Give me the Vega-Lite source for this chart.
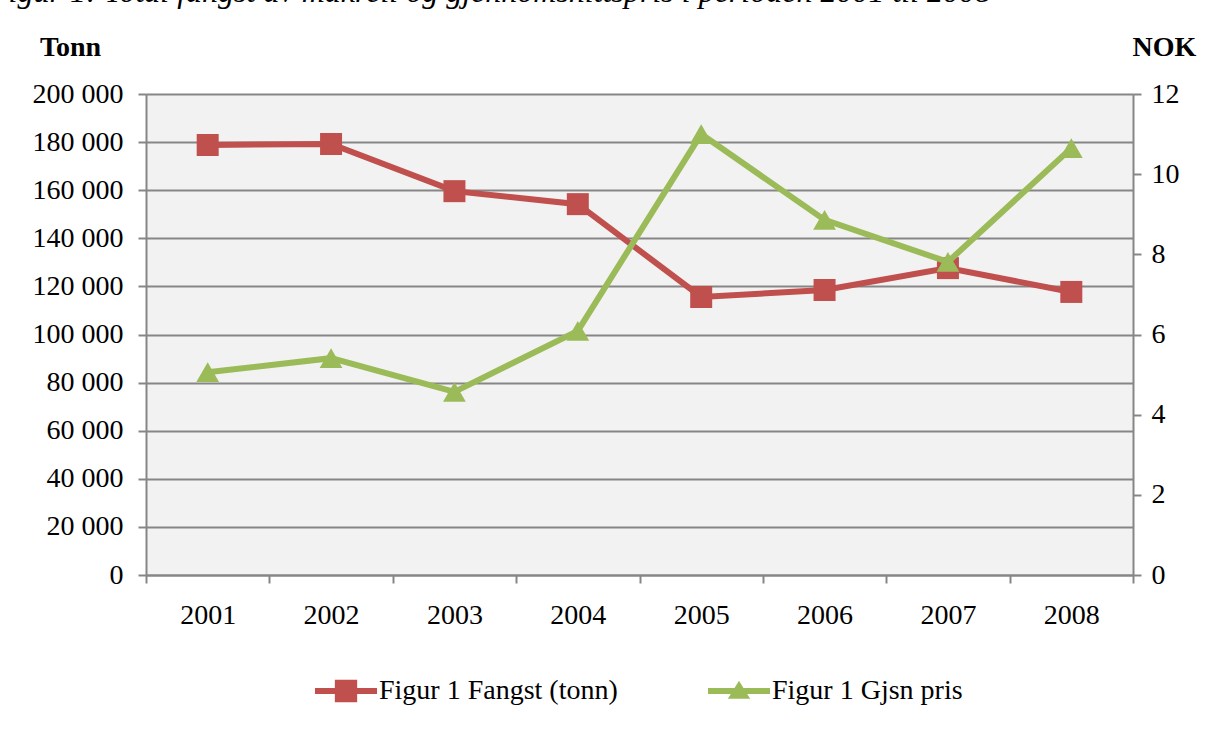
{
  "$schema": "https://vega.github.io/schema/vega-lite/v6.json",
  "width": 987,
  "height": 481,
  "autosize": {"type": "none"},
  "padding": {"left": 146, "top": 94, "right": 75, "bottom": 176},
  "background": "white",
  "title": {
    "text": "Figur 1: Total fangst av makrell og gjennomsnittspris i perioden 2001 til 2008",
    "anchor": "start",
    "frame": "group",
    "font": "Liberation Serif",
    "fontStyle": "italic",
    "fontWeight": "normal",
    "fontSize": 32,
    "color": "black",
    "baseline": "alphabetic",
    "offset": 0,
    "dx": -157,
    "dy": 1
  },
  "config": {
    "locale": {"number": {"decimal": ",", "thousands": " ", "grouping": [3], "currency": ["", " kr"]}},
    "view": {"fill": "#f2f2f2", "stroke": null},
    "axis": {
      "labelFont": "Liberation Serif",
      "labelFontSize": 28,
      "labelColor": "black",
      "titleFont": "Liberation Serif",
      "titleFontSize": 28,
      "titleColor": "black",
      "titleFontWeight": "bold",
      "domainColor": "#868686",
      "domainWidth": 2,
      "tickColor": "#868686",
      "tickWidth": 2,
      "tickSize": 8,
      "gridColor": "#868686",
      "gridWidth": 2
    }
  },
  "data": {
    "values": [
      {"year": "2001", "serie": "Figur 1 Fangst (tonn)", "verdi": 178800},
      {"year": "2002", "serie": "Figur 1 Fangst (tonn)", "verdi": 179200},
      {"year": "2003", "serie": "Figur 1 Fangst (tonn)", "verdi": 159600},
      {"year": "2004", "serie": "Figur 1 Fangst (tonn)", "verdi": 154200},
      {"year": "2005", "serie": "Figur 1 Fangst (tonn)", "verdi": 115600},
      {"year": "2006", "serie": "Figur 1 Fangst (tonn)", "verdi": 118500},
      {"year": "2007", "serie": "Figur 1 Fangst (tonn)", "verdi": 127600},
      {"year": "2008", "serie": "Figur 1 Fangst (tonn)", "verdi": 117700},
      {"year": "2001", "serie": "Figur 1 Gjsn pris", "verdi": 5.06},
      {"year": "2002", "serie": "Figur 1 Gjsn pris", "verdi": 5.41},
      {"year": "2003", "serie": "Figur 1 Gjsn pris", "verdi": 4.57},
      {"year": "2004", "serie": "Figur 1 Gjsn pris", "verdi": 6.09},
      {"year": "2005", "serie": "Figur 1 Gjsn pris", "verdi": 11.0},
      {"year": "2006", "serie": "Figur 1 Gjsn pris", "verdi": 8.86},
      {"year": "2007", "serie": "Figur 1 Gjsn pris", "verdi": 7.81},
      {"year": "2008", "serie": "Figur 1 Gjsn pris", "verdi": 10.65}
    ]
  },
  "encoding": {
    "x": {
      "field": "year",
      "type": "ordinal",
      "scale": {"type": "band", "paddingInner": 0, "paddingOuter": 0},
      "axis": {"title": null, "labelAngle": 0, "tickBand": "extent", "labelPadding": 18, "grid": false}
    },
    "color": {
      "field": "serie",
      "type": "nominal",
      "scale": {"domain": ["Figur 1 Fangst (tonn)", "Figur 1 Gjsn pris"], "range": ["#c0504d", "#9bbb59"]},
      "legend": {
        "title": null,
        "orient": "none",
        "direction": "horizontal",
        "legendX": 169,
        "legendY": 566,
        "labelFont": "Liberation Serif",
        "labelFontSize": 28,
        "labelColor": "black",
        "labelLimit": 500,
        "labelOffset": 2,
        "columnPadding": 90,
        "symbolSize": 3844,
        "symbolStrokeWidth": 0,
        "symbolOpacity": 1,
        "encode": {
          "symbols": {
            "update": {
              "shape": {"signal": "datum.value === 'Figur 1 Fangst (tonn)' ? 'M-1,-0.1H1V0.1H-1Z M-0.36,-0.36H0.36V0.36H-0.36Z' : 'M-1,-0.1H1V0.1H-1Z M0,-0.33L0.36,0.25H-0.36Z'"},
              "fill": {"signal": "datum.value === 'Figur 1 Fangst (tonn)' ? '#c0504d' : '#9bbb59'"},
              "strokeWidth": {"value": 0}
            }
          }
        }
      }
    }
  },
  "layer": [
    {
      "transform": [{"filter": "datum.serie === 'Figur 1 Fangst (tonn)'"}],
      "encoding": {
        "y": {
          "field": "verdi",
          "type": "quantitative",
          "scale": {"domain": [0, 200000], "nice": false},
          "axis": {
            "orient": "left",
            "values": [0, 20000, 40000, 60000, 80000, 100000, 120000, 140000, 160000, 180000, 200000],
            "format": ",.0f",
            "grid": true,
            "labelPadding": 15,
            "title": "Tonn",
            "titleAngle": 0,
            "titleAlign": "center",
            "titleBaseline": "alphabetic",
            "titleX": -76,
            "titleY": -39
          }
        }
      },
      "layer": [
        {"mark": {"type": "line", "strokeWidth": 6}},
        {"mark": {"type": "point", "shape": "square", "filled": true, "size": 484, "opacity": 1}}
      ]
    },
    {
      "transform": [{"filter": "datum.serie === 'Figur 1 Gjsn pris'"}],
      "encoding": {
        "y": {
          "field": "verdi",
          "type": "quantitative",
          "scale": {"domain": [0, 12], "nice": false},
          "axis": {
            "orient": "right",
            "values": [0, 2, 4, 6, 8, 10, 12],
            "grid": false,
            "labelPadding": 10,
            "title": "NOK",
            "titleAngle": 0,
            "titleAlign": "center",
            "titleBaseline": "alphabetic",
            "titleX": 31,
            "titleY": -39
          }
        }
      },
      "layer": [
        {"mark": {"type": "line", "strokeWidth": 6}},
        {"mark": {"type": "point", "shape": "triangle-up", "filled": true, "size": 520, "opacity": 1}}
      ]
    }
  ],
  "resolve": {"scale": {"y": "independent"}}
}
